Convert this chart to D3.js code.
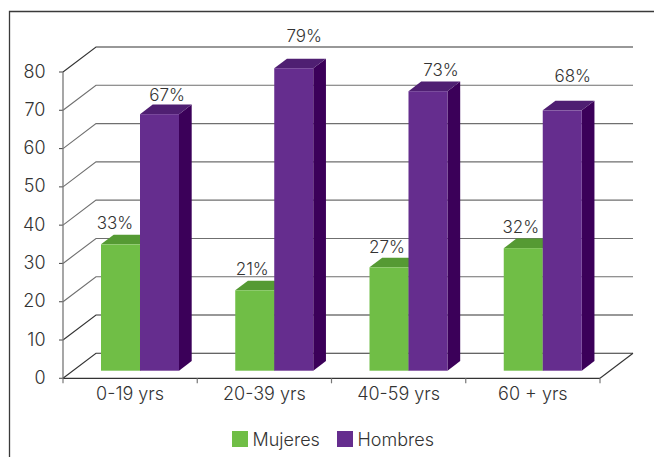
<!DOCTYPE html>
<html><head><meta charset="utf-8">
<script src="https://cdnjs.cloudflare.com/ajax/libs/d3/7.8.5/d3.min.js"></script>
<style>html,body{margin:0;padding:0;background:#fff}svg{display:block}text{font-family:"Inter","Liberation Sans",Arial,sans-serif;font-weight:300;fill:#333}</style>
</head><body><svg id="c" width="654" height="457"></svg>
<script>
const categories = ["0-19 yrs","20-39 yrs","40-59 yrs","60 + yrs"];
const seriesNames = ["Mujeres","Hombres"];
const mujeres = [33,21,27,32];
const hombres = [67,79,73,68];
const yTicks = [0,10,20,30,40,50,60,70,80];
// hand-placed label nudges, as in the reference
const labelLiftM = [0,0,-1,0];
const labelLiftH = [0,13,2,15];
const labelNudgeM = [-1,2,2.5,2];
const labelNudgeH = [0,3,5.5,3];

const colors = {
  Mujeres:{front:"#70BE46",top:"#559A33",side:"#4a8a2c"},
  Hombres:{front:"#652D8E",top:"#4F1F72",side:"#3B0059"}
};
const svg = d3.select("#c");
const x = d3.scaleBand().domain(categories).range([63,600]).paddingInner(0).paddingOuter(0);
const y = d3.scaleLinear().domain([0,80]).range([378.3,72]);
const dx=33, dy=-25;           // wall depth
const bdx=12.7, bdy=-9.6;      // bar depth
const baseShift=-7.6, barW=39, groupOff=38;

// frame
svg.append("path").attr("d","M654,11.5H9.5V457").attr("fill","none").attr("stroke","#3a3a3a").attr("stroke-width",1.3);

// walls
const g = svg.append("g").attr("fill","none");
yTicks.forEach((t,i)=>{
  const yy=y(t);
  g.append("path").attr("d",`M63,${yy}L${63+dx},${yy+dy}H${600+dx}`)
   .attr("stroke",i===0||i===8||i===1?"#333":"#6f6f6f").attr("stroke-width",1.1);
  g.append("line").attr("x1",59).attr("x2",63).attr("y1",yy).attr("y2",yy).attr("stroke","#555").attr("stroke-width",1.1);
});
g.append("line").attr("x1",63).attr("x2",63).attr("y1",y(80)).attr("y2",y(0)).attr("stroke","#777").attr("stroke-width",1.3);
g.append("line").attr("x1",600).attr("x2",600+dx).attr("y1",y(0)).attr("y2",y(0)+dy).attr("stroke","#333").attr("stroke-width",1.1);
g.append("line").attr("x1",63).attr("x2",600).attr("y1",y(0)).attr("y2",y(0)).attr("stroke","#333").attr("stroke-width",1.2);
[...categories.map(c=>x(c)),600].forEach(px=>{
  g.append("line").attr("x1",px).attr("x2",px).attr("y1",y(0)).attr("y2",y(0)+5).attr("stroke","#777").attr("stroke-width",1.2);
});

// bars
function bar(v,xl,c){
  const b=y(0)+baseShift, t=y(v)+baseShift, r=xl+barW;
  const p=svg.append("g");
  p.append("path").attr("fill",c.side).attr("d",`M${r},${b}L${r+bdx},${b+bdy}V${t+bdy}L${r},${t}Z`);
  p.append("path").attr("fill",c.top).attr("d",`M${xl},${t}L${xl+bdx},${t+bdy}H${r+bdx}L${r},${t}Z`);
  p.append("rect").attr("fill",c.front).attr("x",xl).attr("y",t).attr("width",barW).attr("height",b-t);
}
categories.forEach((c,i)=>{
  const x0=x(c)+groupOff;
  bar(mujeres[i],x0,colors.Mujeres);
  bar(hombres[i],x0+barW,colors.Hombres);
});

// value labels
const lab=(v,cx,cy)=>svg.append("text").attr("x",cx).attr("y",cy).attr("text-anchor","middle").attr("dominant-baseline","central").attr("font-size",17).text(v+"%");
categories.forEach((c,i)=>{
  const x0=x(c)+groupOff;
  lab(mujeres[i],x0+15+labelNudgeM[i],y(mujeres[i])+baseShift-21-labelLiftM[i]);
  lab(hombres[i],x0+barW+27+labelNudgeH[i],y(hombres[i])+baseShift-19-labelLiftH[i]);
});

// axis labels
yTicks.forEach(t=>svg.append("text").attr("x",45.5).attr("y",y(t)-1).attr("text-anchor","end").attr("dominant-baseline","central").attr("font-size",18).text(t));
categories.forEach(c=>svg.append("text").attr("x",x(c)+x.bandwidth()/2).attr("y",393.5).attr("text-anchor","middle").attr("dominant-baseline","central").attr("font-size",18).text(c));

// legend
const lx=[232,337];
seriesNames.forEach((s,i)=>{
  svg.append("rect").attr("x",lx[i]).attr("y",431).attr("width",16).attr("height",16).attr("fill",colors[s].front);
  svg.append("text").attr("x",lx[i]+20.5).attr("y",439.5).attr("dominant-baseline","central").attr("font-size",18).text(s);
});
</script></body></html>
